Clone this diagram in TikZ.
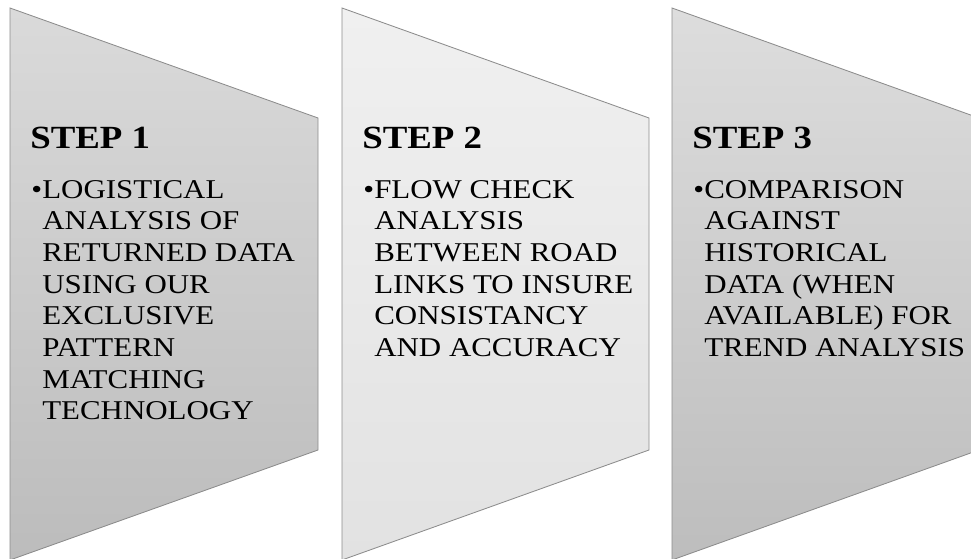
\documentclass[tikz,border=0pt]{standalone}
\usepackage{fontspec}
\setmainfont{Liberation Serif}[FakeStretch=1.14]
\usepackage{tikz}
\usetikzlibrary{positioning}
\definecolor{panel_one_top}{HTML}{DADADA}
\definecolor{panel_one_bottom}{HTML}{BCBCBC}
\definecolor{panel_two_top}{HTML}{F0F0F0}
\definecolor{panel_two_bottom}{HTML}{E2E2E2}
\definecolor{panel_three_top}{HTML}{DDDDDD}
\definecolor{panel_three_bottom}{HTML}{BDBDBD}
\definecolor{panel_edge}{HTML}{8C8C8C}

\begin{document}
\begin{tikzpicture}[x=0.025cm,y=0.025cm,
    panel/.style={draw=panel_edge, line width=0.6pt},
    steptitle/.style={anchor=base west, inner sep=0pt, font=\fontsize{23}{27}\selectfont\bfseries},
    stepbody/.style={anchor=north west, inner sep=0pt, align=left, font=\fontsize{19.3}{22.5}\selectfont}]

    \clip (0,0) rectangle (971,558);

    % Coordonnées des trois panneaux
    \coordinate (A1) at (10,550);
    \coordinate (B1) at (318,440);
    \coordinate (C1) at (318,108);
    \coordinate (D1) at (10,-2);

    \coordinate (A2) at (342,550);
    \coordinate (B2) at (649,440);
    \coordinate (C2) at (649,108);
    \coordinate (D2) at (342,-2);

    \coordinate (A3) at (672,550);
    \coordinate (B3) at (979,440);
    \coordinate (C3) at (979,108);
    \coordinate (D3) at (672,-2);

    % Les panneaux en dégradé
    \shadedraw[panel, top color=panel_one_top, bottom color=panel_one_bottom] (A1) -- (B1) -- (C1) -- (D1) -- cycle;
    \shadedraw[panel, top color=panel_two_top, bottom color=panel_two_bottom] (A2) -- (B2) -- (C2) -- (D2) -- cycle;
    \shadedraw[panel, top color=panel_three_top, bottom color=panel_three_bottom] (A3) -- (B3) -- (C3) -- (D3) -- cycle;

    % Titres des étapes
    \node[steptitle] (T1) at (30,409) {STEP 1};
    \node[steptitle] (T2) at (362,409) {STEP 2};
    \node[steptitle] (T3) at (692,409) {STEP 3};

    % Texte de chaque étape
    \node[stepbody] (S1) at ([xshift=0.3cm,yshift=-0.775cm]T1.base west) {\llap{\textbullet}LOGISTICAL\\ANALYSIS OF\\RETURNED DATA\\USING OUR\\EXCLUSIVE\\PATTERN\\MATCHING\\TECHNOLOGY};
    \node[stepbody] (S2) at ([xshift=0.3cm,yshift=-0.775cm]T2.base west) {\llap{\textbullet}FLOW CHECK\\ANALYSIS\\BETWEEN ROAD\\LINKS TO INSURE\\CONSISTANCY\\AND ACCURACY};
    \node[stepbody] (S3) at ([xshift=0.3cm,yshift=-0.775cm]T3.base west) {\llap{\textbullet}COMPARISON\\AGAINST\\HISTORICAL\\DATA (WHEN\\AVAILABLE) FOR\\TREND ANALYSIS};
\end{tikzpicture}
\end{document}
